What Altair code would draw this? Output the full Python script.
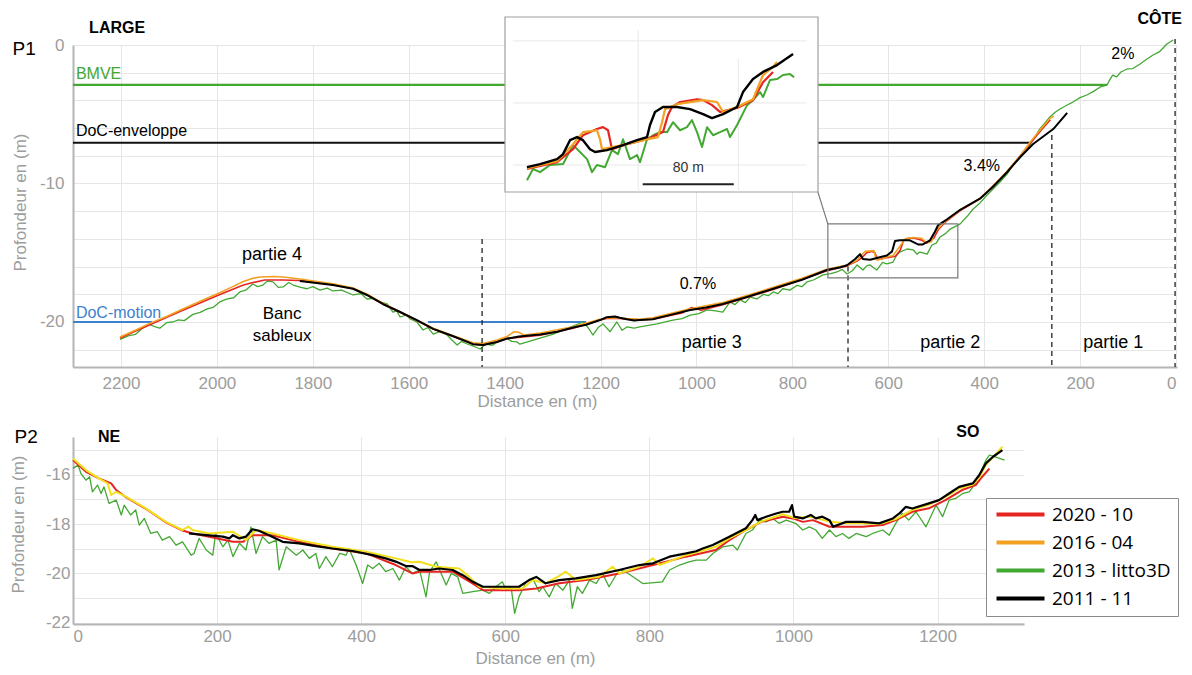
import altair as alt
import pandas as pd

FONT = "Liberation Sans"

# ---------------- P1 profiles (distance m, depth m) ----------------
p1_black = [(1827,-17.04),(1758,-17.33),(1716,-17.6),(1687,-18.05),(1654,-18.7),(1618,-19.28),(1583,-19.86),
            (1549,-20.5),(1514,-20.94),(1487,-21.3),(1466,-21.6),(1445,-21.66),(1416,-21.44),(1395,-21.2),
            (1370,-21.05),(1326,-20.9),(1290,-20.7),(1257,-20.4),(1230,-20.2),(1201,-19.86),(1187,-19.65),
            (1170,-19.6),(1160,-19.7),(1145,-19.8),(1130,-19.9),(1118,-19.86),(1091,-19.8),(1050,-19.45),
            (1013,-19.13),(980,-18.95),(945,-18.7),(900,-18.25),(840,-17.6),(780,-16.95),(728,-16.25),
            (700,-16.05),(686,-15.9),(669,-15.45),(659,-15.1),(653,-15.45),(638,-15.5),(620,-15.35),
            (603,-15.2),(592,-14.9),(586,-14.15),(576,-14.1),(555,-14.1),(538,-14.4),(528,-14.4),(513,-14.1),
            (503,-13.5),(496,-13.0),(478,-12.6),(450,-11.9),(409,-11.1),(382,-10.25),(352,-9.17),(325,-8.09),
            (298,-7.15),(256,-6.07),(227,-4.9)]

p1_orange = [(2202,-21.08),(2170,-20.6),(2140,-20.1),(2105,-19.6),(2071,-19.06),(2035,-18.5),(2000,-17.98),
             (1970,-17.5),(1946,-17.1),(1925,-16.85),(1910,-16.75),(1880,-16.72),(1862,-16.75),(1827,-16.9),
             (1758,-17.25),(1716,-17.55),(1687,-18.0),(1654,-18.65),(1618,-19.25),(1583,-19.85),(1549,-20.45),
             (1514,-20.9),(1487,-21.25),(1466,-21.5),(1445,-21.55),(1416,-21.3),(1395,-21.05),(1380,-20.7),
             (1370,-20.75),(1360,-20.95),(1326,-20.8),(1257,-20.35),(1201,-19.8),(1187,-19.7),(1160,-19.7),
             (1145,-19.75),(1118,-19.8),(1091,-19.7),(1050,-19.35),(1013,-19.05),(945,-18.6),(900,-18.15),
             (840,-17.5),(780,-16.85),(728,-16.2),(700,-16.0),(686,-15.9),(665,-15.55),(657,-15.2),(648,-14.9),
             (630,-14.85),(625,-15.5),(612,-15.45),(603,-15.3),(590,-15.2),(575,-14.5),(565,-14.0),(548,-13.9),
             (530,-13.95),(520,-14.3),(510,-14.2),(505,-13.6),(495,-13.2),(480,-12.7),(450,-11.9),(409,-11.1),
             (382,-10.2),(352,-9.1),(325,-8.0),(304,-7.0),(280,-6.0),(263,-5.3),(255,-5.15)]

p1_red = [(2202,-21.15),(2140,-20.2),(2071,-19.15),(2000,-18.1),(1946,-17.35),(1931,-17.2),(1900,-16.97),
          (1862,-16.97),(1827,-17.0),(1758,-17.3),(1716,-17.6),(1687,-18.05),(1654,-18.7),(1618,-19.3),
          (1583,-19.9),(1549,-20.5),(1514,-20.95),(1487,-21.3),(1466,-21.6),(1445,-21.65),(1416,-21.45),
          (1395,-21.2),(1326,-20.95),(1257,-20.45),(1201,-19.85),(1187,-19.75),(1160,-19.75),(1145,-19.8),
          (1118,-19.85),(1091,-19.8),(1030,-19.35),(1010,-18.95),(990,-19.15),(945,-18.75),(840,-17.65),
          (728,-16.3),(686,-15.95),(665,-15.6),(655,-15.35),(645,-15.0),(635,-14.9),(628,-15.0),(622,-15.5),
          (603,-15.35),(585,-15.25),(575,-14.8),(568,-14.1),(558,-13.95),(545,-13.95),(530,-14.1),(520,-14.3),
          (505,-13.95),(495,-13.3),(480,-12.75),(450,-11.95),(409,-11.1),(352,-9.15),(304,-7.1),(280,-6.1),
          (262,-5.4)]

p1_green = [(2202,-21.25),(2185,-21.0),(2170,-20.9),(2155,-20.45),(2140,-20.2),(2128,-20.35),(2119,-20.45),
            (2105,-20.05),(2092,-20.0),(2080,-19.85),(2068,-19.9),(2050,-19.45),(2035,-19.3),(2020,-19.05),
            (2008,-18.95),(1994,-18.55),(1980,-18.35),(1965,-18.25),(1952,-17.83),(1940,-17.7),(1925,-17.26),
            (1915,-17.45),(1904,-17.33),(1895,-17.05),(1883,-17.1),(1872,-17.5),(1862,-17.47),(1850,-17.15),
            (1841,-17.33),(1825,-17.5),(1812,-17.6),(1800,-17.45),(1785,-17.7),(1770,-17.55),(1758,-17.76),
            (1740,-17.7),(1716,-18.05),(1700,-17.95),(1687,-18.34),(1672,-18.3),(1660,-18.55),(1645,-18.7),
            (1633,-19.28),(1625,-19.2),(1618,-19.64),(1605,-19.5),(1597,-19.78),(1583,-20.0),(1570,-20.58),
            (1560,-20.4),(1549,-20.87),(1535,-20.7),(1520,-20.94),(1510,-21.3),(1499,-21.66),(1490,-21.4),
            (1478,-21.59),(1465,-21.75),(1451,-21.95),(1440,-21.6),(1430,-21.66),(1424,-21.66),(1410,-21.3),
            (1395,-21.2),(1385,-21.4),(1374,-21.44),(1368,-21.6),(1300,-20.9),(1237,-20.0),(1226,-20.4),
            (1216,-20.94),(1205,-20.4),(1195,-20.14),(1180,-20.7),(1166,-20.0),(1155,-20.6),(1145,-20.36),
            (1130,-20.45),(1118,-20.36),(1100,-20.25),(1082,-20.14),(1065,-20.0),(1049,-19.86),(1030,-19.75),
            (1013,-19.5),(995,-19.4),(978,-19.13),(960,-19.2),(945,-19.28),(930,-18.55),(920,-18.75),
            (909,-18.4),(898,-18.6),(888,-18.2),(874,-18.34),(860,-18.0),(850,-18.1),(840,-17.83),(830,-17.95),
            (820,-17.6),(805,-17.7),(790,-17.35),(780,-17.45),(769,-17.1),(755,-16.95),(736,-16.6),(720,-16.5),
            (707,-16.39),(696,-16.2),(686,-16.53),(675,-16.3),(665,-15.88),(653,-16.25),(645,-15.95),
            (638,-15.88),(630,-16.1),(624,-16.25),(612,-15.7),(603,-15.81),(590,-15.67),(583,-15.2),
            (576,-14.95),(561,-14.73),(548,-14.8),(540,-15.1),(534,-14.95),(519,-15.1),(509,-14.44),(500,-14.3),
            (492,-13.86),(480,-13.6),(471,-13.29),(460,-13.1),(450,-12.92),(435,-12.35),(423,-11.84),
            (410,-11.45),(394,-10.83),(380,-10.35),(367,-9.89),(352,-9.3),(340,-8.66),(325,-8.15),(311,-7.58),
            (298,-6.85),(284,-6.06),(273,-5.6),(263,-5.2),(252,-4.85),(242,-4.62),(228,-4.35),(215,-4.12),
            (200,-3.8),(186,-3.61),(172,-3.35),(158,-3.03),(150,-2.95),(144,-2.89),(138,-2.5),(132,-2.17),
            (124,-2.3),(115,-1.95),(102,-1.73),(90,-1.7),(75,-1.37),(62,-1.05),(48,-0.72),(35,-0.5),
            (19,0.07),(6,0.36)]

# reference depths
bmve_depth, bmve_from, bmve_to = -2.88, 2300, 144
docenv_depth, docenv_from, docenv_to = -7.05, 2300, 305
docmot_depth = -20.0
docmot_segments = [(2300, 2135), (1560, 1230)]

# limits between parts (dashed), from top depth to bottom
limit_dist = [1447, 684, 259, 2]
limit_top = [-14.0, -16.0, -6.5, 0.43]

# zoom box and connector
zoom_box = (726, 455, -12.92, -16.82)
connector = (747, -10.6, 726, -12.92)

# ---------------- Inset (local metres, depth) ----------------
ins_black = [(19.3,-16.07),(30.8,-15.97),(45.7,-15.81),(51,-15.65),(57.1,-15.2),(63.3,-15.1),(68.5,-15.2),
             (74.7,-15.49),(79.1,-15.58),(89.6,-15.52),(103.7,-15.36),(116,-15.2),(124.8,-15.1),
             (127.4,-14.71),(131.8,-14.29),(138.8,-14.13),(151.1,-14.13),(162.6,-14.2),(174,-14.36),
             (181.9,-14.49),(191.6,-14.36),(203.9,-14.13),(209.1,-13.65),(217.9,-13.23),(226.7,-13.0),
             (239,-12.78),(253.1,-12.42)]
ins_red = [(19.3,-16.13),(45.7,-15.91),(59.8,-15.49),(68.5,-15.04),(80.8,-14.84),(86.1,-14.78),(90.5,-14.88),
           (94.0,-15.49),(103.7,-15.36),(124.8,-15.17),(138.8,-14.94),(143.2,-14.39),(146.7,-14.13),
           (153.8,-13.97),(168.7,-13.88),(174.0,-13.91),(181.9,-14.07),(188.9,-14.29),(203.9,-14.16),
           (217.9,-13.91),(226.7,-13.33),(235.5,-13.0)]
ins_orange = [(19.3,-16.1),(45.7,-15.88),(59.8,-15.33),(68.5,-14.94),(80.8,-14.88),(83.5,-15.17),(85.2,-15.49),
              (103.7,-15.36),(121.3,-15.2),(134.4,-15.1),(138.0,-14.62),(140.6,-14.2),(151.1,-14.04),
              (174.0,-13.91),(186.3,-13.97),(191.6,-14.29),(203.9,-14.13),(217.9,-13.88),(226.7,-13.1),
              (235.5,-12.84),(239.0,-12.68)]
ins_green = [(19.3,-16.49),(24.6,-16.13),(30.8,-16.23),(39.5,-16.0),(51.0,-15.97),(59.8,-15.36),(65.9,-15.58),
             (72.1,-15.81),(76.4,-16.23),(80.8,-16.0),(87.9,-16.07),(94.0,-15.52),(99.3,-15.65),(103.7,-15.17),
             (109.8,-15.81),(116.0,-15.68),(118.6,-15.91),(124.8,-15.17),(130.1,-15.04),(136.2,-14.94),
             (142.4,-14.94),(147.6,-14.62),(153.8,-14.88),(159.9,-14.78),(164.3,-14.55),(168.7,-14.94),
             (173.1,-15.42),(177.5,-14.78),(182.8,-15.04),(188.9,-14.94),(195.1,-14.84),(197.7,-15.1),
             (203.9,-14.71),(212.7,-14.07),(217.9,-13.91),(224.1,-13.65),(226.7,-13.81),(232.9,-13.26),
             (239.0,-13.23),(244.3,-13.1),(250.4,-13.07),(254.0,-13.17)]
ins_hgrid = [-12, -14, -16]
ins_vgrid = [(117, -11.65), (205, -12.58)]
ins_bar = (121, 201, -16.62)

# ---------------- P2 profiles ----------------
p2_black = [(161,-18.38),(185,-18.45),(208,-18.51),(217,-18.58),(222,-18.45),(231,-18.58),(240,-18.51),
            (249,-18.21),(258,-18.27),(272,-18.45),(291,-18.72),(314,-18.78),(337,-18.89),(360,-18.99),
            (388,-19.09),(416,-19.26),(434,-19.39),(448,-19.52),(462,-19.7),(471,-19.7),(481,-19.86),
            (495,-19.86),(508,-19.8),(527,-19.86),(541,-20.07),(555,-20.34),(569,-20.54),(592,-20.54),
            (619,-20.54),(633,-20.27),(643,-20.14),(656,-20.4),(675,-20.27),(698,-20.2),(726,-20.07),
            (758,-19.86),(786,-19.66),(805,-19.59),(828,-19.32),(851,-19.19),(865,-19.1),(874,-18.99),
            (888,-18.85),(911,-18.51),(934,-18.17),(943,-17.84),(947,-17.63),(950,-17.84),(962,-17.7),
            (976,-17.57),(985,-17.5),(994,-17.5),(998,-17.23),(1001,-17.7),(1013,-17.77),(1024,-17.63),
            (1031,-17.77),(1040,-17.7),(1050,-17.84),(1055,-18.11),(1073,-17.91),(1096,-17.91),(1119,-17.97),
            (1138,-17.77),(1147,-17.57),(1156,-17.3),(1165,-17.37),(1188,-17.16),(1202,-17.03),(1216,-16.76),
            (1230,-16.49),(1239,-16.42),(1249,-16.35),(1258,-16.01),(1267,-15.54),(1277,-15.27),(1290,-15.0)]

p2_yellow = [(0,-15.34),(18,-15.81),(36,-16.15),(48,-16.35),(53,-16.82),(60,-16.69),(74,-16.9),(101,-17.36),
             (129,-17.91),(152,-18.24),(160,-18.1),(166,-18.24),(189,-18.38),(222,-18.31),(240,-18.65),
             (254,-18.24),(277,-18.38),(314,-18.65),(360,-18.92),(407,-19.12),(448,-19.39),(470,-19.55),
             (481,-19.53),(504,-19.73),(536,-19.8),(550,-20.14),(564,-20.54),(596,-20.61),(624,-20.61),
             (638,-20.27),(656,-20.4),(675,-20.1),(684,-19.93),(698,-20.27),(730,-20.14),(749,-19.73),
             (758,-20.0),(786,-19.73),(805,-19.39),(814,-19.66),(851,-19.26),(892,-18.92),(911,-18.58),
             (934,-18.24),(955,-17.9),(985,-17.6),(1001,-17.75),(1024,-17.7),(1050,-17.9),(1073,-17.97),
             (1096,-17.97),(1119,-18.0),(1142,-17.8),(1165,-17.42),(1188,-17.22),(1211,-16.9),(1230,-16.55),
             (1249,-16.4),(1258,-16.1),(1267,-15.6),(1280,-15.2),(1290,-14.86)]

p2_red = [(0,-15.4),(18,-15.88),(36,-16.15),(48,-16.29),(53,-16.35),(60,-16.62),(74,-16.92),(101,-17.38),
          (129,-17.93),(152,-18.26),(166,-18.38),(189,-18.51),(222,-18.72),(236,-18.72),(249,-18.45),
          (277,-18.45),(314,-18.72),(360,-18.99),(407,-19.19),(448,-19.66),(471,-20.0),(481,-19.93),
          (527,-19.93),(555,-20.41),(569,-20.68),(619,-20.68),(643,-20.61),(675,-20.4),(712,-20.27),
          (758,-20.0),(805,-19.66),(851,-19.32),(892,-19.05),(911,-18.65),(934,-18.24),(955,-17.91),
          (985,-17.7),(999,-17.77),(1013,-17.91),(1027,-17.84),(1050,-18.11),(1096,-18.11),(1124,-18.04),
          (1142,-17.84),(1165,-17.5),(1188,-17.36),(1211,-17.03),(1234,-16.62),(1253,-16.42),(1262,-16.08),
          (1272,-15.75)]

p2_green = [(0,-15.74),(7,-15.61),(11,-15.95),(18,-16.22),(23,-16.08),(27,-16.69),(34,-16.42),(39,-16.76),
            (43,-16.49),(50,-17.16),(60,-17.03),(67,-17.63),(71,-17.23),(80,-17.63),(87,-17.43),(92,-18.04),
            (99,-17.77),(108,-18.38),(117,-18.31),(124,-18.65),(134,-18.51),(143,-18.85),(152,-18.72),
            (164,-19.26),(168,-19.19),(175,-18.58),(185,-19.05),(194,-19.26),(198,-18.38),(208,-18.92),
            (215,-18.65),(222,-19.32),(231,-18.78),(240,-19.05),(247,-18.11),(254,-19.19),(263,-18.51),
            (272,-18.78),(282,-18.65),(286,-19.86),(296,-18.92),(310,-19.26),(319,-19.05),(328,-19.39),
            (337,-19.19),(342,-19.8),(351,-19.32),(360,-19.73),(370,-19.19),(379,-19.26),(383,-18.99),
            (393,-19.66),(402,-20.41),(409,-19.66),(416,-19.8),(425,-19.59),(434,-19.93),(444,-19.8),
            (453,-20.27),(462,-19.73),(471,-20.0),(481,-19.86),(490,-20.95),(495,-19.93),(504,-19.53),
            (511,-20.0),(518,-20.47),(525,-20.0),(534,-20.14),(541,-20.81),(555,-20.74),(569,-20.68),
            (578,-20.81),(587,-20.54),(596,-20.34),(601,-20.68),(608,-20.54),(613,-21.62),(619,-20.95),
            (629,-20.34),(638,-20.2),(647,-20.74),(652,-20.54),(661,-20.95),(670,-20.41),(680,-20.68),
            (689,-20.27),(693,-21.42),(700,-20.54),(707,-20.81),(717,-20.27),(726,-20.41),(735,-20.0),
            (744,-20.54),(758,-19.86),(767,-19.93),(791,-20.41),(818,-20.34),(828,-19.86),(842,-19.66),
            (855,-19.53),(865,-19.46),(879,-19.46),(888,-19.19),(902,-18.92),(916,-18.85),(922,-19.05),
            (934,-18.38),(943,-18.24),(953,-17.84),(962,-17.91),(971,-17.77),(980,-17.97),(990,-17.84),
            (1003,-17.97),(1013,-18.24),(1022,-18.11),(1031,-18.24),(1040,-18.58),(1050,-18.24),(1059,-18.51),
            (1068,-18.38),(1077,-18.58),(1087,-18.38),(1101,-18.51),(1110,-18.38),(1124,-18.24),(1133,-18.45),
            (1142,-17.97),(1151,-17.57),(1160,-17.84),(1170,-17.5),(1184,-18.11),(1198,-17.23),(1207,-17.7),
            (1216,-17.03),(1225,-16.96),(1235,-16.76),(1244,-16.69),(1251,-16.42),(1258,-16.01),(1267,-15.41),
            (1272,-15.2),(1279,-15.27),(1286,-15.34),(1293,-15.41)]

legend_labels = ["2020 - 10", "2016 - 04", "2013 - litto3D", "2011 - 11"]

# ---------------- annotations ----------------
p1_ticks_x = list(range(0, 2201, 200))
p1_ticks_y = list(range(0, -23, -2))
p2_ticks_x = list(range(0, 1201, 200))
p2_ticks_y = list(range(-15, -23, -1))

big_labels = ["partie 4", "partie 3", "partie 2", "partie 1"]
big_dist = [1885, 968, 471, 131]
big_depth = [-15.16, -21.5, -21.5, -21.5]
pct_labels = ["0.7%", "3.4%", "2%"]
pct_dist = [997, 405, 111]
pct_depth = [-17.26, -8.74, -0.65]
banc_labels = ["Banc", "sableux"]
banc_dist = [1864, 1864]
banc_depth = [-19.42, -21.0]
bold_p1 = ["LARGE", "CÔTE"]
bold_p1_dist = [2208, 34]
bold_p1_depth = [1.2, 1.9]

# ---------------- colours ----------------
C_RED, C_ORANGE, C_YELLOW, C_GREEN, C_BLACK = "#e52521", "#f2a122", "#f3e01d", "#43a832", "#000000"
C_BLUE = "#3f7fcf"
GRAY_TXT = "#9d9d9d"


def dfp(pairs):
    d = pd.DataFrame(pairs, columns=["dist", "depth"])
    d["i"] = range(len(d))
    return d


# ---------------- P1 scales & axes ----------------
X1 = alt.Scale(domain=[2300, -2])
Y1 = alt.Scale(domain=[-23.25, 0])
AX1 = alt.Axis(values=p1_ticks_x, format="d", ticks=False, grid=True, gridColor="#e6e6e6",
               labelColor=GRAY_TXT, labelFontSize=17, labelFont=FONT, labelPadding=8,
               domainColor="#b5b5b5", domainWidth=2, title="Distance en (m)", titleColor=GRAY_TXT,
               titleFontSize=17, titleFont=FONT, titleFontWeight="normal", titleX=464, titleY=34,
               titleAlign="center", titleBaseline="middle")
AY1 = alt.Axis(values=p1_ticks_y, labelExpr="datum.value % 10 == 0 ? '' + datum.value : ''",
               ticks=False, grid=True, gridColor="#e6e6e6", labelColor=GRAY_TXT, labelFontSize=17,
               labelFont=FONT, labelPadding=9, domainColor="#b5b5b5", domainWidth=2,
               title="Profondeur en (m)", titleColor=GRAY_TXT, titleFontSize=17, titleFont=FONT,
               titleFontWeight="normal", titleX=-53, titleY=157, titleAngle=270,
               titleAlign="center", titleBaseline="middle")


def ex1(f="dist"):
    return alt.X(f + ":Q", scale=X1, axis=AX1)


def ey1(f="depth"):
    return alt.Y(f + ":Q", scale=Y1, axis=AY1)


def line1(pairs, color, w):
    return alt.Chart(dfp(pairs)).mark_line(color=color, strokeWidth=w, strokeJoin="round").encode(
        x=ex1(), y=ey1(), order="i:Q")


def text1(labels, dists, depths, size, color="black", weight="normal", align="center"):
    d = pd.DataFrame({"t": labels, "dist": dists, "depth": depths})
    return alt.Chart(d).mark_text(fontSize=size, color=color, fontWeight=weight, font=FONT,
                                  align=align, baseline="middle").encode(x=ex1(), y=ey1(), text="t:N")


def hrule1(x1, x2, depth, color, w):
    d = pd.DataFrame({"x1": [x1], "x2": [x2], "depth": [depth]})
    return alt.Chart(d).mark_rule(color=color, strokeWidth=w).encode(x=ex1("x1"), x2="x2:Q", y=ey1())


docmot_df = pd.DataFrame({"x1": [s[0] for s in docmot_segments], "x2": [s[1] for s in docmot_segments],
                          "depth": [docmot_depth] * len(docmot_segments)})
limits_df = pd.DataFrame({"dist": limit_dist, "top": limit_top, "bottom": [-23.25] * len(limit_dist)})
box_df = pd.DataFrame({"x1": [zoom_box[0]], "x2": [zoom_box[1]], "y1": [zoom_box[2]], "y2": [zoom_box[3]]})
conn_df = pd.DataFrame({"x1": [connector[0]], "y1": [connector[1]], "x2": [connector[2]], "y2": [connector[3]]})

main_layers = [
    hrule1(bmve_from, bmve_to, bmve_depth, C_GREEN, 2.2),
    hrule1(docenv_from, docenv_to, docenv_depth, "#111111", 2.0),
    alt.Chart(docmot_df).mark_rule(color=C_BLUE, strokeWidth=2.2).encode(x=ex1("x1"), x2="x2:Q", y=ey1()),
    line1(p1_green, C_GREEN, 1.3),
    line1(p1_red, C_RED, 1.6),
    line1(p1_orange, C_ORANGE, 1.6),
    line1(p1_black, C_BLACK, 2.0),
    alt.Chart(limits_df).mark_rule(color="#222222", strokeWidth=1.3, strokeDash=[5, 4]).encode(
        x=ex1(), y=ey1("top"), y2="bottom:Q"),
    alt.Chart(box_df).mark_rect(fillOpacity=0, stroke="#7a7a7a", strokeWidth=1.2).encode(
        x=ex1("x1"), x2="x2:Q", y=ey1("y1"), y2="y2:Q"),
    alt.Chart(conn_df).mark_rule(color="#7a7a7a", strokeWidth=1.2).encode(
        x=ex1("x1"), x2="x2:Q", y=ey1("y1"), y2="y2:Q"),
    text1(["BMVE"], [2294], [-2.09], 16, color=C_GREEN, align="left"),
    text1(["DoC-enveloppe"], [2294], [-6.21], 16, align="left"),
    text1(["DoC-motion"], [2294], [-19.35], 16, color=C_BLUE, align="left"),
    text1(big_labels, big_dist, big_depth, 18),
    text1(banc_labels, banc_dist, banc_depth, 17),
    text1(pct_labels, pct_dist, pct_depth, 16),
    text1(bold_p1, bold_p1_dist, bold_p1_depth, 16, weight="bold"),
    text1(["P1"], [2402], [-0.29], 19),
]

# ---------------- Inset ----------------
XI = alt.Scale(domain=[0, 275], range=[432, 745])
YI = alt.Scale(domain=[-16.87, -11.23], range=[147, -28])


def exi(f="x"):
    return alt.X(f + ":Q", scale=XI, axis=None)


def eyi(f="depth"):
    return alt.Y(f + ":Q", scale=YI, axis=None)


def linei(pairs, color, w):
    d = pd.DataFrame(pairs, columns=["x", "depth"])
    d["i"] = range(len(d))
    return alt.Chart(d).mark_line(color=color, strokeWidth=w, strokeJoin="round").encode(
        x=exi(), y=eyi(), order="i:Q")


frame_df = pd.DataFrame({"x": [0], "x2": [275], "depth": [-16.87], "d2": [-11.23]})
hgrid_df = pd.DataFrame({"x": [7] * len(ins_hgrid), "x2": [265] * len(ins_hgrid), "depth": ins_hgrid})
vgrid_df = pd.DataFrame({"x": [v[0] for v in ins_vgrid], "depth": [v[1] for v in ins_vgrid],
                         "d2": [-16.87] * len(ins_vgrid)})
bar_df = pd.DataFrame({"x": [ins_bar[0]], "x2": [ins_bar[1]], "depth": [ins_bar[2]]})
bar_txt = pd.DataFrame({"x": [(ins_bar[0] + ins_bar[1]) / 2], "depth": [-16.1], "t": ["80 m"]})

inset_layers = [
    alt.Chart(frame_df).mark_rect(fill="white", stroke="#a0a0a0", strokeWidth=1.2).encode(
        x=exi(), x2="x2:Q", y=eyi(), y2="d2:Q"),
    alt.Chart(hgrid_df).mark_rule(color="#e8e8e8", strokeWidth=1).encode(x=exi(), x2="x2:Q", y=eyi()),
    alt.Chart(vgrid_df).mark_rule(color="#e8e8e8", strokeWidth=1).encode(x=exi(), y=eyi(), y2="d2:Q"),
    linei(ins_green, C_GREEN, 2.0),
    linei(ins_red, C_RED, 2.2),
    linei(ins_orange, C_ORANGE, 2.2),
    linei(ins_black, C_BLACK, 2.4),
    alt.Chart(bar_df).mark_rule(color="#222222", strokeWidth=2).encode(x=exi(), x2="x2:Q", y=eyi()),
    alt.Chart(bar_txt).mark_text(fontSize=14, font=FONT, color="#333333", baseline="middle").encode(
        x=exi(), y=eyi(), text="t:N"),
]

top = alt.layer(alt.layer(*main_layers), alt.layer(*inset_layers)).resolve_scale(
    x="independent", y="independent").properties(width=1104, height=322)

# ---------------- P2 ----------------
X2 = alt.Scale(domain=[0, 1320])
Y2 = alt.Scale(domain=[-22.05, -14.47])
AX2 = alt.Axis(values=p2_ticks_x, format="d", ticks=False, grid=True, gridColor="#e6e6e6",
               labelColor=GRAY_TXT, labelFontSize=17, labelFont=FONT, labelPadding=4,
               domainColor="#b5b5b5", domainWidth=2, title="Distance en (m)", titleColor=GRAY_TXT,
               titleFontSize=17, titleFont=FONT, titleFontWeight="normal", titleX=462, titleY=34,
               titleAlign="center", titleBaseline="middle")
AY2 = alt.Axis(values=p2_ticks_y, labelExpr="datum.value % 2 == 0 ? '' + datum.value : ''",
               ticks=False, grid=True, gridColor="#e6e6e6", labelColor=GRAY_TXT, labelFontSize=17,
               labelFont=FONT, labelPadding=3, domainColor="#b5b5b5", domainWidth=2,
               title="Profondeur en (m)", titleColor=GRAY_TXT, titleFontSize=17, titleFont=FONT,
               titleFontWeight="normal", titleX=-55, titleY=87, titleAngle=270,
               titleAlign="center", titleBaseline="middle")


def ex2(f="dist"):
    return alt.X(f + ":Q", scale=X2, axis=AX2)


def ey2(f="depth"):
    return alt.Y(f + ":Q", scale=Y2, axis=AY2)


def line2(pairs, color, w):
    return alt.Chart(dfp(pairs)).mark_line(color=color, strokeWidth=w, strokeJoin="round").encode(
        x=ex2(), y=ey2(), order="i:Q")


def text2(labels, dists, depths, size, weight="normal"):
    d = pd.DataFrame({"t": labels, "dist": dists, "depth": depths})
    return alt.Chart(d).mark_text(fontSize=size, color="black", fontWeight=weight, font=FONT,
                                  baseline="middle").encode(x=ex2(), y=ey2(), text="t:N")


leg_df = pd.DataFrame({"serie": [s for s in legend_labels for _ in range(2)],
                       "dist": [-60, -50] * len(legend_labels),
                       "depth": [-18, -18] * len(legend_labels)})
legend_layer = alt.Chart(leg_df).mark_line(clip=True, strokeWidth=4).encode(
    x=ex2(), y=ey2(),
    color=alt.Color("serie:N", scale=alt.Scale(domain=legend_labels,
                                               range=[C_RED, C_ORANGE, C_GREEN, C_BLACK]),
                    legend=alt.Legend(orient="none", legendX=913, legendY=453, title=None,
                                      direction="vertical", symbolType="M-1,0H7", symbolSize=144,
                                      symbolStrokeWidth=4, labelFont="Open Sans", labelFontSize=19,
                                      labelColor="black", labelOffset=40, rowPadding=8, padding=7,
                                      strokeColor="#8a8a8a", fillColor="white", labelLimit=300)))

bottom = alt.layer(
    line2(p2_green, C_GREEN, 1.3),
    line2(p2_red, C_RED, 2.0),
    line2(p2_yellow, C_YELLOW, 2.0),
    line2(p2_black, C_BLACK, 2.2),
    text2(["P2"], [-65], [-14.47], 19),
    text2(["NE", "SO"], [50, 1242], [-14.47, -14.27], 16, weight="bold"),
    legend_layer,
).properties(width=951, height=187)

chart = alt.vconcat(top, bottom, spacing=13).properties(
    padding={"left": 0, "top": 2, "right": 0, "bottom": 0}
).configure_view(stroke="transparent")

chart.save("out.html", embed_options={"renderer": "svg", "actions": False})
